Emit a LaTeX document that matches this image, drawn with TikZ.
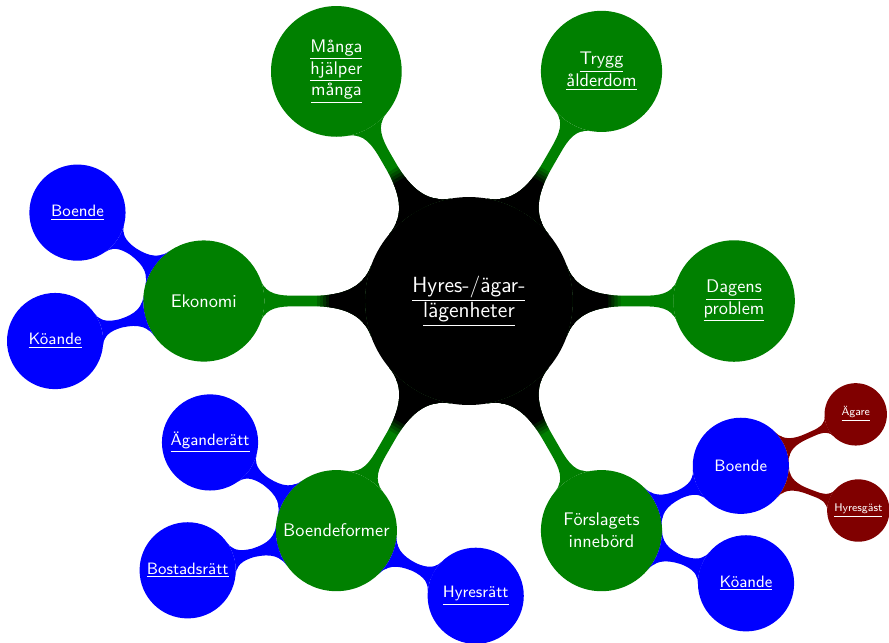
\documentclass[tikz,border=0pt]{standalone}
\usepackage{tikz}
\usetikzlibrary{mindmap}
\renewcommand{\familydefault}{\sfdefault}
\definecolor{node_green}{RGB}{0,128,0}
\definecolor{node_blue}{RGB}{0,0,255}
\definecolor{node_red}{RGB}{128,0,0}
\newcommand{\lnk}[1]{\underline{#1}}

\begin{document}
\begin{tikzpicture}[mindmap]
    \tikzstyle{bubble}=[circle, inner sep=0pt, align=center, text=white]
    \tikzstyle{rootc}=[style=bubble, fill=black, minimum size=4cm, text width=3.5cm, font=\large]
    \tikzstyle{lvlone}=[style=bubble, fill=node_green, minimum size=2.33cm, text width=2.2cm, font=\normalsize]
    \tikzstyle{lvltwo}=[style=bubble, fill=node_blue, minimum size=1.85cm, text width=1.7cm, font=\small]
    \tikzstyle{lvlthree}=[style=bubble, fill=node_red, minimum size=1.2cm, text width=1.1cm, font=\fontsize{6.1}{7.5}\selectfont]
    \tikzstyle{gbar}=[circle connection bar switch color=from (node_green) to (node_green)]
    \tikzstyle{kbar}=[circle connection bar switch color=from (black) to (black)]
    \tikzstyle{bbar}=[circle connection bar switch color=from (node_blue) to (node_blue)]
    \tikzstyle{rbar}=[circle connection bar switch color=from (node_red) to (node_red)]

    \useasboundingbox (-9.02,-6.56) rectangle (8.08,5.79);

    \node[rootc]    (root)      at (0,0)          {\lnk{Hyres-/ägar-}\\\lnk{lägenheter}};
    \node[lvlone]   (many)      at (120:5.1)      {\lnk{Många}\\\lnk{hjälper}\\\lnk{många}};
    \node[lvlone]   (trygg)     at (60:5.1)       {\lnk{Trygg}\\\lnk{ålderdom}};
    \node[lvlone]   (dagens)    at (0:5.1)        {\lnk{Dagens}\\\lnk{problem}};
    \node[lvlone]   (forslag)   at (-60:5.1)      {Förslagets\\innebörd};
    \node[lvlone]   (boendef)   at (-120:5.1)     {Boendeformer};
    \node[lvlone]   (ekonomi)   at (180:5.1)      {Ekonomi};

    \node[lvltwo]   (boende)    at (-7.53,1.70)   {\lnk{Boende}};
    \node[lvltwo]   (koande)    at (-7.96,-0.77)  {\lnk{Köande}};
    \node[lvltwo]   (agande)    at (-4.98,-2.72)  {\lnk{Äganderätt}};
    \node[lvltwo]   (bostad)    at (-5.41,-5.18)  {\lnk{Bostadsrätt}};
    \node[lvltwo]   (hyresratt) at (0.13,-5.67)   {\lnk{Hyresrätt}};
    \node[lvltwo]   (boendeb)   at (5.23,-3.17)   {Boende};
    \node[lvltwo]   (koandeb)   at (5.33,-5.43)   {\lnk{Köande}};
    \node[lvlthree] (agare)     at (7.44,-2.18)   {\lnk{Ägare}};
    \node[lvlthree] (hyresgast) at (7.49,-4.03)   {\lnk{Hyresgäst}};

    % green bars, then black over them near the root (short fade)
    \foreach \c in {many,trygg,dagens,forslag,boendef,ekonomi}
        \path (root) to[gbar] (\c);
    \foreach \r/\o in {2.92/0.2, 2.86/0.25, 2.80/0.333, 2.74/0.5, 2.68/1}{
        \begin{scope}
            \clip (root.center) circle (\r);
            \foreach \c in {many,trygg,dagens,forslag,boendef,ekonomi}
                \path[opacity=\o] (root) to[kbar] (\c);
        \end{scope}
    }

    \path (ekonomi) to[bbar] (boende);
    \path (ekonomi) to[bbar] (koande);
    \path (boendef) to[bbar] (agande);
    \path (boendef) to[bbar] (bostad);
    \path (boendef) to[bbar] (hyresratt);
    \path (forslag) to[bbar] (boendeb);
    \path (forslag) to[bbar] (koandeb);
    \path (boendeb) to[rbar] (agare);
    \path (boendeb) to[rbar] (hyresgast);
\end{tikzpicture}
\end{document}
